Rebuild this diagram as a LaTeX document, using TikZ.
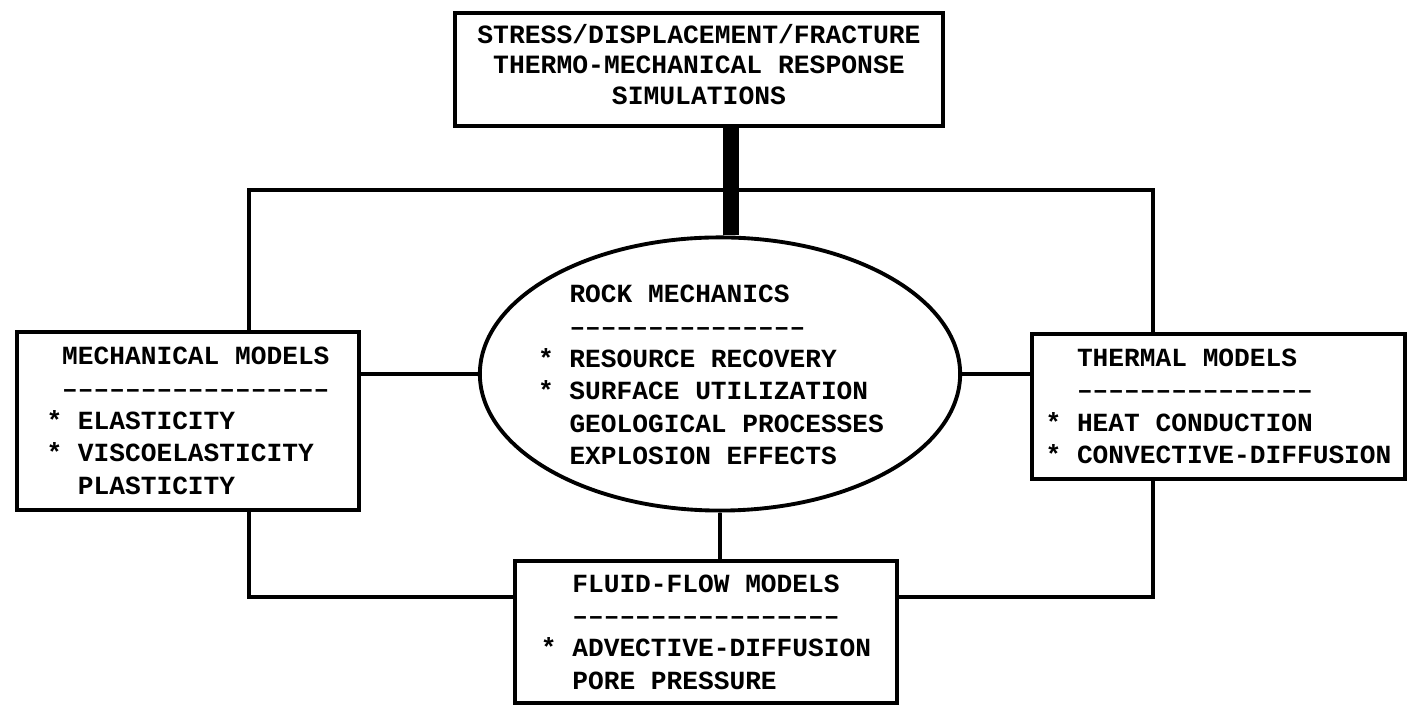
\documentclass[tikz,border=0pt]{standalone}
\usepackage{fontspec}
\setmonofont{Liberation Mono}
\usetikzlibrary{shapes.geometric}
\newcommand\boxfont{\ttfamily\bfseries\fontsize{7.45}{9.2}\selectfont}
\newcommand\nostar{\hphantom{* }}
\tikzset{
	modelbox/.style={draw, line width=1.1pt, align=left, inner sep=0pt, font=\boxfont},
	bar/.style={line width=4.5pt},
}

\begin{document}
\begin{tikzpicture}[x=0.01cm, y=-0.01cm, line width=1.1pt]
		\useasboundingbox (0,0) rectangle (1414,707);
		\node[modelbox, align=center, font=\ttfamily\bfseries\fontsize{7.5}{8.7}\selectfont, minimum width=4.88cm, minimum height=1.13cm] (sim) at (699,69.5) {STRESS/DISPLACEMENT/FRACTURE\\THERMO-MECHANICAL RESPONSE\\SIMULATIONS\\[-5.7pt]};
		\node[draw, ellipse, line width=1.1pt, minimum width=4.8cm, minimum height=2.73cm] (rock) at (720,374) {};
		\node[align=left, font=\boxfont, inner sep=0pt] (rocktxt) at (711,375) {\nostar ROCK MECHANICS\\\nostar –––––––––––––––\\* RESOURCE RECOVERY\\* SURFACE UTILIZATION\\\nostar GEOLOGICAL PROCESSES\\\nostar EXPLOSION EFFECTS};
		\node[modelbox, minimum width=3.42cm, minimum height=1.78cm] (mech) at (188,421) {\hphantom{*}MECHANICAL MODELS\\\hphantom{*}–––––––––––––––––\\* ELASTICITY\\* VISCOELASTICITY\\\nostar PLASTICITY};
		\node[modelbox, minimum width=3.73cm, minimum height=1.45cm] (therm) at (1218.5,406.5) {\nostar THERMAL MODELS\\\nostar –––––––––––––––\\* HEAT CONDUCTION\\* CONVECTIVE-DIFFUSION};
		\node[modelbox, minimum width=3.82cm, minimum height=1.42cm] (fluid) at (706,632) {\nostar FLUID-FLOW MODELS\\\nostar –––––––––––––––––\\* ADVECTIVE-DIFFUSION\\\nostar PORE PRESSURE};
		% corners of the outer loop
		\coordinate (nw) at (249,190);
		\coordinate (ne) at (1153,190);
		\coordinate (sw) at (249,597);
		\coordinate (se) at (1153,597);
		\coordinate (barx) at (731,0);
		\draw (mech.north -| nw) -- (nw) -- (ne) -- (therm.north -| ne);
		\draw (mech.south -| sw) -- (sw) -- (fluid.west |- sw);
		\draw (fluid.east |- se) -- (se) -- (therm.south -| se);
		\draw (rock.west) -- (mech.east |- rock.west);
		\draw (rock.east) -- (therm.west |- rock.east);
		\draw (rock.south) -- (rock.south |- fluid.north);
		\draw[bar] (sim.south -| barx) -- (rock.north -| barx);
\end{tikzpicture}
\end{document}
